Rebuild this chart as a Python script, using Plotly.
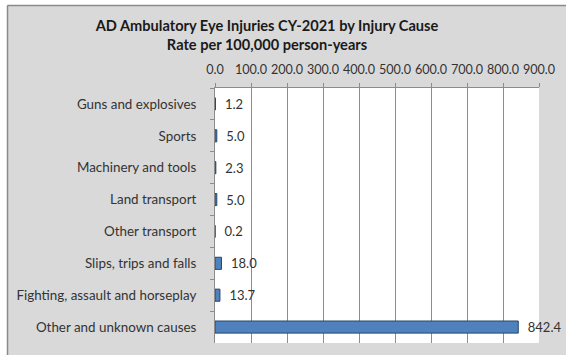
import plotly.graph_objects as go

categories = [
    "Guns and explosives",
    "Sports",
    "Machinery and tools",
    "Land transport",
    "Other transport",
    "Slips, trips and falls",
    "Fighting, assault and horseplay",
    "Other and unknown causes",
]
rates = [1.2, 5.0, 2.3, 5.0, 0.2, 18.0, 13.7, 842.4]
x_ticks = [0, 100, 200, 300, 400, 500, 600, 700, 800, 900]

W, H = 566, 355
L, R, T, B = 215, 27, 88, 12
FONT = "Lato"

fig = go.Figure(
    go.Bar(
        x=rates,
        y=categories,
        orientation="h",
        marker=dict(color="#4F81BD", line=dict(color="#24466F", width=1)),
        text=[f"\u2002{v:.1f}" for v in rates],
        textposition="outside",
        constraintext="none",
        textfont=dict(family=FONT, size=13, color="#333333"),
        cliponaxis=False,
        hoverinfo="skip",
    )
)

fig.update_layout(
    width=W,
    height=H,
    margin=dict(l=L, r=R, t=T, b=B),
    paper_bgcolor="#D9D9D9",
    plot_bgcolor="#FFFFFF",
    bargap=0.62,
    showlegend=False,
    font=dict(family=FONT, size=13, color="#333333"),
    title=dict(
        text="<b>AD Ambulatory Eye Injuries CY-2021 by Injury Cause<br>Rate per 100,000 person-years</b>",
        font=dict(family=FONT, size=14.6, color="#1a1a1a"),
        x=267 / W,
        xref="container",
        xanchor="center",
        y=1 - 31 / H,
        yref="container",
        yanchor="middle",
    ),
    xaxis=dict(
        side="top",
        range=[0, 900],
        tickvals=x_ticks,
        ticktext=[f"{v:.1f}" for v in x_ticks],
        showgrid=True,
        gridcolor="#8C8C8C",
        gridwidth=1,
        showline=True,
        linecolor="#8C8C8C",
        ticks="outside",
        ticklen=4,
        tickcolor="#8C8C8C",
        ticklabelstandoff=4,
        tickfont=dict(family=FONT, size=12.6, color="#333333"),
        zeroline=False,
        fixedrange=True,
    ),
    yaxis=dict(
        autorange="reversed",
        showline=True,
        linecolor="#8C8C8C",
        ticks="outside",
        tickson="boundaries",
        ticklen=4,
        tickcolor="#8C8C8C",
        ticklabelstandoff=15,
        tickfont=dict(family=FONT, size=13.4, color="#333333"),
        showgrid=False,
        fixedrange=True,
    ),
    shapes=[
        dict(type="rect", xref="paper", yref="paper", layer="above",
             x0=(0 - L) / (W - L - R) - 0.01, x1=(7 - L) / (W - L - R),
             y0=-0.2, y1=1.5, fillcolor="#FFFFFF", line=dict(width=0)),
        dict(type="rect", xref="paper", yref="paper", layer="above",
             x0=-1, x1=1.2,
             y0=(H - B - 5) / (H - T - B), y1=(H - B + 1) / (H - T - B),
             fillcolor="#FFFFFF", line=dict(width=0)),
        dict(type="line", xref="paper", yref="paper", layer="above",
             x0=(7.5 - L) / (W - L - R), x1=(7.5 - L) / (W - L - R),
             y0=-0.2, y1=(H - B - 5.5) / (H - T - B),
             line=dict(color="#8A8A8A", width=1.5)),
        dict(type="line", xref="paper", yref="paper", layer="above",
             x0=(7.5 - L) / (W - L - R), x1=1.2,
             y0=(H - B - 5.5) / (H - T - B), y1=(H - B - 5.5) / (H - T - B),
             line=dict(color="#8A8A8A", width=1.5)),
    ],
)

fig.write_html("out.html")
